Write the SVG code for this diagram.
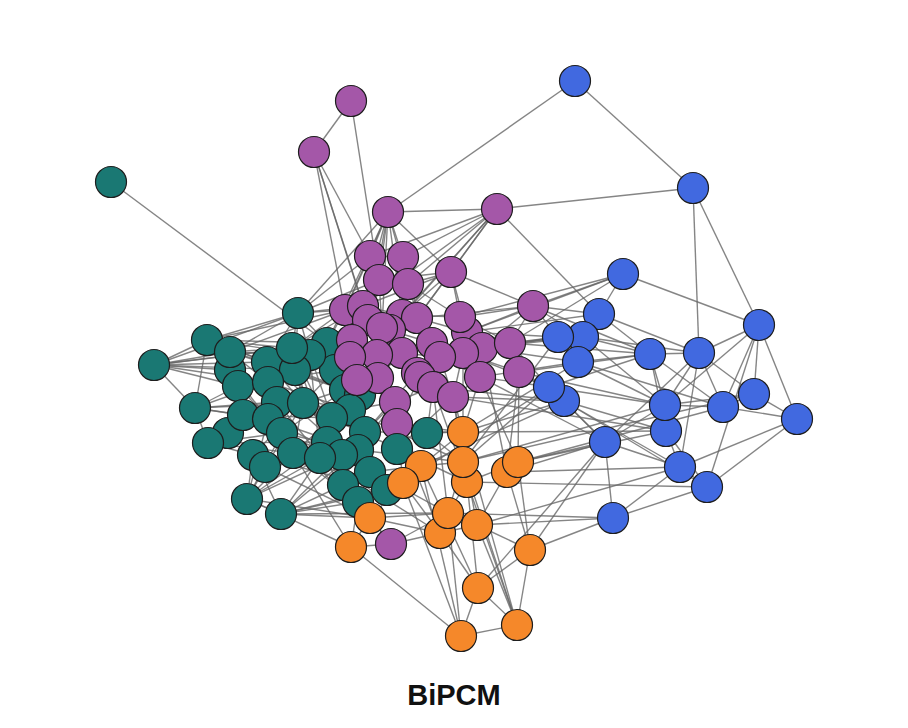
<svg xmlns="http://www.w3.org/2000/svg" width="908" height="728" viewBox="0 0 908 728">
<style>
#edges path{stroke:#666;stroke-opacity:.8;stroke-width:1.4;fill:none}
circle{stroke:#1e1e1e;stroke-width:1.2}
.t circle{fill:#1a7873}
.p circle{fill:#a457a8}
.o circle{fill:#f5882a}
.b circle{fill:#4169e0}
.title{font-family:"Liberation Sans",Arial,sans-serif;font-weight:bold;font-size:29px;fill:#111}
</style>
<rect width="908" height="728" fill="#fff"/>
<g id="edges">
<path d="M111 182L327 343"/><path d="M351 101L314 152"/><path d="M351 101L379 280"/><path d="M314 152L363 306"/><path d="M314 152L368 320"/><path d="M314 152L345 310"/><path d="M314 152L370 256"/><path d="M388 212L575 81"/><path d="M388 212L497 209"/><path d="M497 209L693 188"/><path d="M497 209L599 314"/><path d="M575 81L693 188"/><path d="M693 188L699 353"/><path d="M693 188L759 325"/>
<path d="M388 212L370 256"/><path d="M388 212L403 257"/><path d="M388 212L379 280"/><path d="M388 212L408 284"/><path d="M388 212L363 306"/><path d="M388 212L402 315"/><path d="M388 212L368 320"/><path d="M388 212L382 328"/><path d="M388 212L345 310"/><path d="M497 209L370 256"/><path d="M497 209L403 257"/><path d="M497 209L408 284"/><path d="M497 209L402 315"/><path d="M497 209L417 318"/><path d="M497 209L451 272"/><path d="M497 209L363 306"/><path d="M497 209L390 330"/><path d="M388 212L298 313"/><path d="M388 212L327 343"/>
<path d="M451 272L533 306"/><path d="M451 272L388 212"/><path d="M451 272L408 284"/><path d="M451 272L402 315"/><path d="M451 272L417 318"/><path d="M451 272L460 317"/><path d="M451 272L379 280"/><path d="M451 272L363 306"/>
<path d="M533 306L623 274"/><path d="M533 306L599 314"/><path d="M533 306L558 337"/><path d="M533 306L583 337"/><path d="M533 306L460 317"/><path d="M533 306L467 332"/><path d="M533 306L482 348"/><path d="M533 306L510 343"/><path d="M533 306L650 354"/><path d="M533 306L417 318"/>
<path d="M623 274L467 332"/><path d="M623 274L759 325"/><path d="M623 274L599 314"/><path d="M623 274L510 343"/>
<path d="M759 325L699 353"/><path d="M759 325L754 394"/><path d="M759 325L797 419"/><path d="M759 325L723 407"/><path d="M759 325L665 405"/><path d="M759 325L707 487"/><path d="M599 314L650 354"/><path d="M599 314L699 353"/><path d="M599 314L558 337"/><path d="M599 314L578 362"/><path d="M558 337L583 337"/><path d="M558 337L578 362"/><path d="M583 337L650 354"/><path d="M583 337L699 353"/><path d="M578 362L650 354"/><path d="M578 362L665 405"/><path d="M650 354L699 353"/><path d="M650 354L665 405"/><path d="M650 354L666 431"/><path d="M699 353L665 405"/><path d="M699 353L723 407"/><path d="M699 353L754 394"/><path d="M699 353L680 467"/><path d="M665 405L723 407"/><path d="M666 431L680 467"/><path d="M723 407L754 394"/><path d="M754 394L797 419"/><path d="M723 407L797 419"/><path d="M680 467L707 487"/><path d="M707 487L797 419"/><path d="M680 467L797 419"/><path d="M605 442L680 467"/><path d="M605 442L613 518"/><path d="M613 518L680 467"/><path d="M613 518L707 487"/><path d="M549 387L605 442"/><path d="M564 401L605 442"/><path d="M564 401L666 431"/><path d="M549 387L650 354"/><path d="M564 401L680 467"/><path d="M578 362L723 407"/><path d="M605 442L665 405"/><path d="M666 431L707 487"/><path d="M564 401L707 487"/><path d="M549 387L665 405"/><path d="M583 337L665 405"/><path d="M650 354L723 407"/><path d="M665 405L754 394"/><path d="M605 442L699 353"/>
<path d="M510 343L558 337"/><path d="M510 343L549 387"/><path d="M482 348L558 337"/><path d="M519 372L549 387"/><path d="M519 372L564 401"/><path d="M480 377L578 362"/><path d="M467 332L599 314"/><path d="M460 317L623 274"/><path d="M510 343L650 354"/><path d="M519 372L665 405"/><path d="M482 348L578 362"/><path d="M463 353L549 387"/><path d="M480 377L605 442"/><path d="M453 397L564 401"/><path d="M519 372L650 354"/><path d="M510 343L583 337"/><path d="M482 348L583 337"/><path d="M467 332L558 337"/><path d="M480 377L549 387"/><path d="M463 353L558 337"/><path d="M433 387L564 401"/><path d="M453 397L666 431"/>
<path d="M605 442L518 462"/><path d="M605 442L507 472"/><path d="M666 431L518 462"/><path d="M613 518L530 550"/><path d="M613 518L477 525"/><path d="M564 401L463 432"/><path d="M549 387L463 462"/><path d="M605 442L478 588"/><path d="M680 467L507 472"/><path d="M707 487L467 482"/><path d="M605 442L530 550"/><path d="M723 407L518 462"/><path d="M754 394L463 462"/><path d="M665 405L463 462"/><path d="M549 387L403 483"/><path d="M564 401L421 466"/><path d="M680 467L477 525"/><path d="M666 431L463 432"/><path d="M578 362L463 432"/><path d="M558 337L463 462"/><path d="M613 518L448 513"/>
<path d="M463 432L463 462"/><path d="M463 432L421 466"/><path d="M421 466L403 483"/><path d="M463 462L467 482"/><path d="M467 482L448 513"/><path d="M518 462L507 472"/><path d="M448 513L440 533"/><path d="M440 533L477 525"/><path d="M477 525L530 550"/><path d="M530 550L478 588"/><path d="M478 588L461 636"/><path d="M461 636L517 625"/><path d="M517 625L530 550"/><path d="M478 588L517 625"/><path d="M370 518L351 547"/><path d="M351 547L461 636"/><path d="M403 483L461 636"/><path d="M421 466L478 588"/><path d="M463 462L517 625"/><path d="M467 482L517 625"/><path d="M448 513L461 636"/><path d="M440 533L478 588"/><path d="M477 525L517 625"/><path d="M507 472L530 550"/><path d="M518 462L530 550"/><path d="M370 518L448 513"/><path d="M403 483L440 533"/><path d="M421 466L461 636"/><path d="M463 432L517 625"/><path d="M463 462L448 513"/><path d="M507 472L477 525"/><path d="M467 482L478 588"/><path d="M421 466L463 462"/><path d="M518 462L467 482"/><path d="M370 518L403 483"/><path d="M370 518L440 533"/>
<path d="M463 432L453 397"/><path d="M463 432L397 424"/><path d="M421 466L397 424"/><path d="M463 462L453 397"/><path d="M518 462L480 377"/><path d="M507 472L519 372"/><path d="M391 544L370 518"/><path d="M391 544L440 533"/><path d="M391 544L351 547"/><path d="M403 483L395 402"/><path d="M518 462L519 372"/><path d="M463 432L480 377"/><path d="M507 472L482 348"/><path d="M463 462L463 353"/><path d="M467 482L433 387"/><path d="M477 525L453 397"/><path d="M440 533L397 424"/><path d="M448 513L433 387"/><path d="M391 544L358 502"/><path d="M391 544L448 513"/>
<path d="M370 472L421 466"/><path d="M387 490L403 483"/><path d="M343 485L370 518"/><path d="M358 502L351 547"/><path d="M397 449L421 466"/><path d="M427 433L463 432"/><path d="M358 450L463 462"/><path d="M342 455L448 513"/><path d="M320 458L440 533"/><path d="M327 442L370 518"/><path d="M293 453L351 547"/><path d="M265 467L370 518"/><path d="M247 499L351 547"/><path d="M253 455L403 483"/><path d="M281 514L370 518"/><path d="M281 514L403 483"/><path d="M365 432L463 432"/><path d="M350 410L463 462"/><path d="M427 433L463 462"/><path d="M332 418L467 482"/><path d="M282 433L370 518"/><path d="M281 514L448 513"/><path d="M247 499L370 518"/>
<path d="M154 365L207 340"/><path d="M154 365L230 352"/><path d="M154 365L267 362"/><path d="M154 365L292 348"/><path d="M154 365L230 370"/><path d="M154 365L238 386"/><path d="M154 365L268 382"/><path d="M154 365L298 313"/><path d="M154 365L295 370"/><path d="M207 340L298 313"/><path d="M207 340L230 352"/><path d="M207 340L292 348"/><path d="M207 340L327 343"/><path d="M207 340L267 362"/><path d="M207 340L195 408"/><path d="M207 340L310 355"/><path d="M230 352L292 348"/><path d="M230 352L310 355"/><path d="M230 352L268 382"/><path d="M230 352L295 370"/><path d="M230 352L298 313"/><path d="M195 408L154 365"/><path d="M195 408L238 386"/><path d="M195 408L268 382"/><path d="M195 408L303 403"/><path d="M195 408L243 415"/><path d="M195 408L268 419"/><path d="M195 408L208 443"/><path d="M195 408L277 402"/><path d="M208 443L243 415"/><path d="M208 443L268 419"/><path d="M208 443L282 433"/><path d="M208 443L293 453"/><path d="M208 443L253 455"/><path d="M208 443L327 442"/><path d="M208 443L228 433"/><path d="M247 499L253 455"/><path d="M247 499L293 453"/><path d="M247 499L327 442"/><path d="M247 499L282 433"/><path d="M247 499L320 458"/><path d="M247 499L342 455"/><path d="M247 499L268 419"/><path d="M247 499L281 514"/><path d="M247 499L303 403"/><path d="M281 514L253 455"/><path d="M281 514L320 458"/><path d="M281 514L342 455"/><path d="M281 514L358 450"/><path d="M281 514L343 485"/><path d="M281 514L358 502"/><path d="M281 514L387 490"/><path d="M298 313L292 348"/><path d="M298 313L310 355"/><path d="M298 313L327 343"/><path d="M298 313L267 362"/><path d="M298 313L295 370"/><path d="M298 313L345 310"/><path d="M298 313L363 306"/><path d="M298 313L370 256"/><path d="M298 313L379 280"/>
<path d="M267 362L268 382"/><path d="M267 362L303 403"/><path d="M292 348L303 403"/><path d="M310 355L332 418"/><path d="M327 343L350 410"/><path d="M230 370L268 419"/><path d="M238 386L282 433"/><path d="M268 382L332 418"/><path d="M295 370L327 442"/><path d="M303 403L293 453"/><path d="M243 415L320 458"/><path d="M268 419L342 455"/><path d="M282 433L358 450"/><path d="M332 418L365 432"/><path d="M350 410L370 472"/><path d="M335 370L253 455"/><path d="M360 395L293 453"/><path d="M345 390L282 433"/><path d="M277 402L365 432"/><path d="M327 343L335 370"/><path d="M310 355L345 390"/><path d="M295 370L360 395"/><path d="M268 382L350 410"/><path d="M267 362L332 418"/><path d="M292 348L327 442"/><path d="M230 370L303 403"/><path d="M238 386L350 410"/><path d="M243 415L332 418"/><path d="M268 419L358 450"/><path d="M282 433L370 472"/><path d="M230 352L360 395"/><path d="M207 340L345 390"/><path d="M238 386L335 370"/><path d="M267 362L365 432"/><path d="M292 348L342 455"/><path d="M310 355L320 458"/><path d="M268 382L387 490"/><path d="M303 403L370 472"/><path d="M277 402L343 485"/><path d="M243 415L358 502"/><path d="M253 455L387 490"/>
<path d="M327 343L345 310"/><path d="M327 343L352 340"/><path d="M310 355L368 320"/><path d="M335 370L352 340"/><path d="M335 370L350 357"/><path d="M360 395L357 380"/><path d="M345 390L378 378"/><path d="M350 410L395 402"/><path d="M365 432L395 402"/><path d="M397 449L397 424"/><path d="M427 433L397 424"/><path d="M427 433L433 387"/><path d="M397 449L453 397"/><path d="M295 370L377 355"/><path d="M332 418L357 380"/><path d="M292 348L363 306"/><path d="M267 362L352 340"/><path d="M303 403L378 378"/><path d="M310 355L382 328"/><path d="M335 370L390 330"/><path d="M360 395L402 353"/><path d="M365 432L417 373"/><path d="M358 450L395 402"/><path d="M327 442L378 378"/><path d="M292 348L345 310"/><path d="M230 352L345 310"/><path d="M207 340L363 306"/><path d="M154 365L352 340"/>
<path d="M370 256L379 280"/><path d="M403 257L408 284"/><path d="M379 280L363 306"/><path d="M408 284L402 315"/><path d="M345 310L352 340"/><path d="M363 306L368 320"/><path d="M402 315L390 330"/><path d="M417 318L432 343"/><path d="M460 317L463 353"/><path d="M368 320L377 355"/><path d="M382 328L402 353"/><path d="M467 332L482 348"/><path d="M352 340L357 380"/><path d="M390 330L378 378"/><path d="M432 343L440 357"/><path d="M482 348L480 377"/><path d="M510 343L519 372"/><path d="M463 353L453 397"/><path d="M402 353L417 373"/><path d="M377 355L378 378"/><path d="M350 357L395 402"/><path d="M357 380L395 402"/><path d="M378 378L397 424"/><path d="M417 373L433 387"/><path d="M440 357L453 397"/><path d="M420 377L397 424"/><path d="M480 377L453 397"/><path d="M345 310L350 357"/><path d="M417 318L440 357"/><path d="M402 315L402 353"/><path d="M370 256L345 310"/><path d="M403 257L417 318"/><path d="M379 280L382 328"/><path d="M408 284L432 343"/><path d="M451 272L467 332"/><path d="M460 317L510 343"/><path d="M467 332L510 343"/><path d="M432 343L463 353"/><path d="M402 353L440 357"/><path d="M377 355L420 377"/><path d="M368 320L402 353"/><path d="M382 328L432 343"/><path d="M363 306L402 315"/><path d="M390 330L417 373"/><path d="M352 340L402 353"/><path d="M417 318L467 332"/><path d="M440 357L480 377"/><path d="M463 353L519 372"/><path d="M402 315L460 317"/><path d="M408 284L460 317"/><path d="M370 256L403 257"/><path d="M379 280L408 284"/><path d="M433 387L453 397"/><path d="M395 402L433 387"/><path d="M357 380L378 378"/><path d="M420 377L453 397"/>
</g>
<g id="t1" class="t"><circle cx="111" cy="182" r="15.5"/></g>
<g id="t2" class="t"><circle cx="298" cy="313" r="15.5"/></g>
<g id="t3" class="t"><circle cx="207" cy="340" r="15.5"/></g>
<g id="t5" class="t"><circle cx="154" cy="365" r="15.5"/></g>
<g id="t10" class="t"><circle cx="230" cy="370" r="15.5"/></g>
<g id="t4" class="t"><circle cx="230" cy="352" r="15.5"/></g>
<g id="t9" class="t"><circle cx="327" cy="343" r="15.5"/></g>
<g id="t38" class="t"><circle cx="335" cy="370" r="15.5"/></g>
<g id="t8" class="t"><circle cx="310" cy="355" r="15.5"/></g>
<g id="t6" class="t"><circle cx="267" cy="362" r="15.5"/></g>
<g id="t13" class="t"><circle cx="295" cy="370" r="15.5"/></g>
<g id="t7" class="t"><circle cx="292" cy="348" r="15.5"/></g>
<g id="t11" class="t"><circle cx="238" cy="386" r="15.5"/></g>
<g id="t12" class="t"><circle cx="268" cy="382" r="15.5"/></g>
<g id="t42" class="t"><circle cx="345" cy="390" r="15.5"/></g>
<g id="t39" class="t"><circle cx="360" cy="395" r="15.5"/></g>
<g id="t41" class="t"><circle cx="277" cy="402" r="15.5"/></g>
<g id="t15" class="t"><circle cx="303" cy="403" r="15.5"/></g>
<g id="t14" class="t"><circle cx="195" cy="408" r="15.5"/></g>
<g id="t20" class="t"><circle cx="350" cy="410" r="15.5"/></g>
<g id="t40" class="t"><circle cx="228" cy="433" r="15.5"/></g>
<g id="t16" class="t"><circle cx="243" cy="415" r="15.5"/></g>
<g id="t17" class="t"><circle cx="268" cy="419" r="15.5"/></g>
<g id="t19" class="t"><circle cx="332" cy="418" r="15.5"/></g>
<g id="t18" class="t"><circle cx="282" cy="433" r="15.5"/></g>
<g id="t29" class="t"><circle cx="365" cy="432" r="15.5"/></g>
<g id="t21" class="t"><circle cx="208" cy="443" r="15.5"/></g>
<g id="t22" class="t"><circle cx="327" cy="442" r="15.5"/></g>
<g id="t28" class="t"><circle cx="358" cy="450" r="15.5"/></g>
<g id="t24" class="t"><circle cx="253" cy="455" r="15.5"/></g>
<g id="t23" class="t"><circle cx="293" cy="453" r="15.5"/></g>
<g id="t27" class="t"><circle cx="342" cy="455" r="15.5"/></g>
<g id="t26" class="t"><circle cx="320" cy="458" r="15.5"/></g>
<g id="t25" class="t"><circle cx="265" cy="467" r="15.5"/></g>
<g id="t30" class="t"><circle cx="370" cy="472" r="15.5"/></g>
<g id="t31" class="t"><circle cx="343" cy="485" r="15.5"/></g>
<g id="t33" class="t"><circle cx="387" cy="490" r="15.5"/></g>
<g id="t32" class="t"><circle cx="358" cy="502" r="15.5"/></g>
<g id="t34" class="t"><circle cx="247" cy="499" r="15.5"/></g>
<g id="t35" class="t"><circle cx="281" cy="514" r="15.5"/></g>
<g id="p1" class="p"><circle cx="351" cy="101" r="15.5"/></g>
<g id="p2" class="p"><circle cx="314" cy="152" r="15.5"/></g>
<g id="p3" class="p"><circle cx="388" cy="212" r="15.5"/></g>
<g id="p4" class="p"><circle cx="497" cy="209" r="15.5"/></g>
<g id="p5" class="p"><circle cx="370" cy="256" r="15.5"/></g>
<g id="p6" class="p"><circle cx="403" cy="257" r="15.5"/></g>
<g id="p7" class="p"><circle cx="451" cy="272" r="15.5"/></g>
<g id="p8" class="p"><circle cx="379" cy="280" r="15.5"/></g>
<g id="p9" class="p"><circle cx="408" cy="284" r="15.5"/></g>
<g id="p10" class="p"><circle cx="533" cy="306" r="15.5"/></g>
<g id="p11" class="p"><circle cx="345" cy="310" r="15.5"/></g>
<g id="p12" class="p"><circle cx="363" cy="306" r="15.5"/></g>
<g id="p13" class="p"><circle cx="402" cy="315" r="15.5"/></g>
<g id="p14" class="p"><circle cx="417" cy="318" r="15.5"/></g>
<g id="p18" class="p"><circle cx="467" cy="332" r="15.5"/></g>
<g id="p15" class="p"><circle cx="460" cy="317" r="15.5"/></g>
<g id="p16" class="p"><circle cx="368" cy="320" r="15.5"/></g>
<g id="p20" class="p"><circle cx="390" cy="330" r="15.5"/></g>
<g id="p17" class="p"><circle cx="382" cy="328" r="15.5"/></g>
<g id="p19" class="p"><circle cx="352" cy="340" r="15.5"/></g>
<g id="p22" class="p"><circle cx="482" cy="348" r="15.5"/></g>
<g id="p23" class="p"><circle cx="510" cy="343" r="15.5"/></g>
<g id="p21" class="p"><circle cx="432" cy="343" r="15.5"/></g>
<g id="p24" class="p"><circle cx="463" cy="353" r="15.5"/></g>
<g id="p31" class="p"><circle cx="440" cy="357" r="15.5"/></g>
<g id="p25" class="p"><circle cx="402" cy="353" r="15.5"/></g>
<g id="p26" class="p"><circle cx="377" cy="355" r="15.5"/></g>
<g id="p27" class="p"><circle cx="350" cy="357" r="15.5"/></g>
<g id="p34" class="p"><circle cx="519" cy="372" r="15.5"/></g>
<g id="p33" class="p"><circle cx="480" cy="377" r="15.5"/></g>
<g id="p30" class="p"><circle cx="417" cy="373" r="15.5"/></g>
<g id="p32" class="p"><circle cx="420" cy="377" r="15.5"/></g>
<g id="p29" class="p"><circle cx="378" cy="378" r="15.5"/></g>
<g id="p28" class="p"><circle cx="357" cy="380" r="15.5"/></g>
<g id="p35" class="p"><circle cx="433" cy="387" r="15.5"/></g>
<g id="p36" class="p"><circle cx="453" cy="397" r="15.5"/></g>
<g id="p37" class="p"><circle cx="395" cy="402" r="15.5"/></g>
<g id="p38" class="p"><circle cx="397" cy="424" r="15.5"/></g>
<g id="t36" class="t"><circle cx="397" cy="449" r="15.5"/></g>
<g id="t37" class="t"><circle cx="427" cy="433" r="15.5"/></g>
<g id="p39" class="p"><circle cx="391" cy="544" r="15.5"/></g>
<g id="o1" class="o"><circle cx="463" cy="432" r="15.5"/></g>
<g id="o4" class="o"><circle cx="467" cy="482" r="15.5"/></g>
<g id="o3" class="o"><circle cx="463" cy="462" r="15.5"/></g>
<g id="o2" class="o"><circle cx="421" cy="466" r="15.5"/></g>
<g id="o5" class="o"><circle cx="403" cy="483" r="15.5"/></g>
<g id="o7" class="o"><circle cx="507" cy="472" r="15.5"/></g>
<g id="o6" class="o"><circle cx="518" cy="462" r="15.5"/></g>
<g id="o9" class="o"><circle cx="440" cy="533" r="15.5"/></g>
<g id="o8" class="o"><circle cx="448" cy="513" r="15.5"/></g>
<g id="o10" class="o"><circle cx="477" cy="525" r="15.5"/></g>
<g id="o11" class="o"><circle cx="530" cy="550" r="15.5"/></g>
<g id="o12" class="o"><circle cx="370" cy="518" r="15.5"/></g>
<g id="o13" class="o"><circle cx="351" cy="547" r="15.5"/></g>
<g id="o14" class="o"><circle cx="478" cy="588" r="15.5"/></g>
<g id="o15" class="o"><circle cx="461" cy="636" r="15.5"/></g>
<g id="o16" class="o"><circle cx="517" cy="625" r="15.5"/></g>
<g id="b1" class="b"><circle cx="575" cy="81" r="15.5"/></g>
<g id="b2" class="b"><circle cx="693" cy="188" r="15.5"/></g>
<g id="b3" class="b"><circle cx="623" cy="274" r="15.5"/></g>
<g id="b4" class="b"><circle cx="759" cy="325" r="15.5"/></g>
<g id="b5" class="b"><circle cx="599" cy="314" r="15.5"/></g>
<g id="b7" class="b"><circle cx="583" cy="337" r="15.5"/></g>
<g id="b6" class="b"><circle cx="558" cy="337" r="15.5"/></g>
<g id="b8" class="b"><circle cx="578" cy="362" r="15.5"/></g>
<g id="b9" class="b"><circle cx="650" cy="354" r="15.5"/></g>
<g id="b10" class="b"><circle cx="699" cy="353" r="15.5"/></g>
<g id="b12" class="b"><circle cx="564" cy="401" r="15.5"/></g>
<g id="b11" class="b"><circle cx="549" cy="387" r="15.5"/></g>
<g id="b14" class="b"><circle cx="666" cy="431" r="15.5"/></g>
<g id="b13" class="b"><circle cx="665" cy="405" r="15.5"/></g>
<g id="b15" class="b"><circle cx="605" cy="442" r="15.5"/></g>
<g id="b16" class="b"><circle cx="723" cy="407" r="15.5"/></g>
<g id="b17" class="b"><circle cx="754" cy="394" r="15.5"/></g>
<g id="b18" class="b"><circle cx="797" cy="419" r="15.5"/></g>
<g id="b19" class="b"><circle cx="680" cy="467" r="15.5"/></g>
<g id="b20" class="b"><circle cx="707" cy="487" r="15.5"/></g>
<g id="b21" class="b"><circle cx="613" cy="518" r="15.5"/></g>
<text class="title" x="454" y="705" text-anchor="middle">BiPCM</text>
</svg>
